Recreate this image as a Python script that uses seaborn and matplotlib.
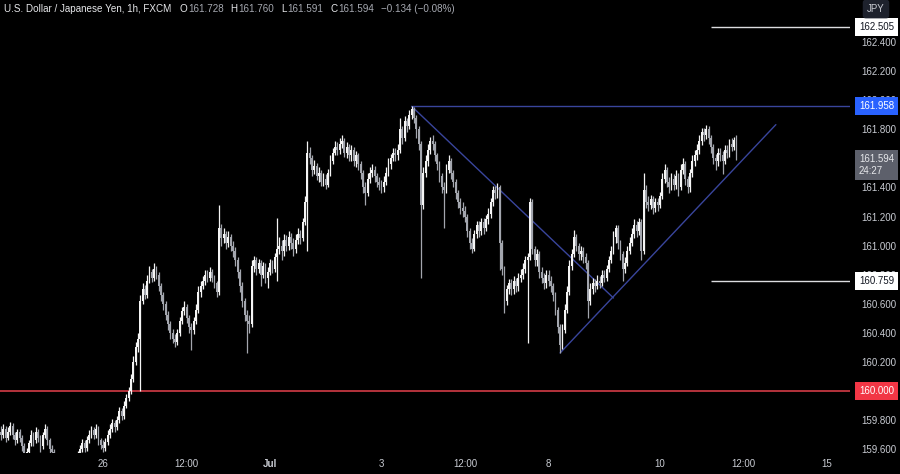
import matplotlib
matplotlib.use("Agg")
import matplotlib.pyplot as plt
import matplotlib.transforms as mtransforms
from matplotlib.patches import Rectangle
import seaborn as sns
import pandas as pd
import numpy as np

# USD/JPY 1h candles, FXCM
first_open = 159.72
closes = [
    159.70, 159.74, 159.68, 159.72, 159.76, 159.70, 159.66, 159.72, 159.68, 159.62,
    159.56, 159.58, 159.64, 159.70, 159.66, 159.72, 159.68, 159.62, 159.70, 159.74,
    159.66, 159.60, 159.58, 159.52, 159.46, 159.42, 159.45, 159.40, 159.44, 159.48,
    159.45, 159.50, 159.53, 159.56, 159.60, 159.64, 159.61, 159.66, 159.70, 159.73,
    159.70, 159.74, 159.66, 159.63, 159.61, 159.65, 159.70, 159.74, 159.78, 159.75,
    159.80, 159.86, 159.83, 159.90, 159.95, 160.00, 160.08, 160.20, 160.30, 160.36,
    160.62, 160.70, 160.66, 160.76, 160.82, 160.78, 160.84, 160.80, 160.72, 160.66,
    160.60, 160.52, 160.46, 160.40, 160.36, 160.34, 160.40, 160.48, 160.55, 160.58,
    160.50, 160.44, 160.42, 160.48, 160.56, 160.68, 160.72, 160.76, 160.80, 160.78,
    160.82, 160.78, 160.74, 160.68, 161.12, 161.05, 161.08, 161.02, 161.06, 161.00,
    160.96, 160.90, 160.82, 160.72, 160.62, 160.52, 160.48, 160.46, 160.86, 160.90,
    160.84, 160.88, 160.80, 160.86, 160.78, 160.82, 160.88, 160.84, 160.92, 160.98,
    161.00, 160.96, 161.04, 161.00, 161.06, 161.02, 160.98, 161.04, 161.08, 161.05,
    161.16, 161.30, 161.64, 161.60, 161.52, 161.55, 161.48, 161.50, 161.44, 161.46,
    161.42, 161.50, 161.58, 161.64, 161.68, 161.66, 161.70, 161.72, 161.64, 161.68,
    161.62, 161.66, 161.58, 161.62, 161.56, 161.50, 161.40, 161.36, 161.46, 161.50,
    161.52, 161.48, 161.44, 161.42, 161.40, 161.44, 161.50, 161.56, 161.60, 161.64,
    161.62, 161.66, 161.80, 161.74, 161.86, 161.82, 161.90, 161.94, 161.88, 161.80,
    161.70, 161.28, 161.50, 161.58, 161.66, 161.72, 161.70, 161.62, 161.56, 161.48,
    161.40, 161.38, 161.52, 161.58, 161.50, 161.44, 161.36, 161.30, 161.26, 161.24,
    161.20, 161.10, 161.02, 160.98, 161.08, 161.14, 161.10, 161.16, 161.12, 161.18,
    161.22, 161.30, 161.38, 161.36, 161.40, 161.02, 160.84, 160.62, 160.70, 160.74,
    160.70, 160.76, 160.72, 160.78, 160.80, 160.84, 160.90, 160.92, 161.30, 160.98,
    160.90, 160.94, 160.82, 160.78, 160.74, 160.80, 160.76, 160.72, 160.66, 160.56,
    160.44, 160.32, 160.42, 160.56, 160.68, 160.86, 160.94, 161.06, 161.00, 160.94,
    160.96, 160.92, 160.88, 160.62, 160.70, 160.74, 160.72, 160.76, 160.74, 160.80,
    160.78, 160.84, 160.90, 160.96, 161.06, 161.12, 161.02, 160.94, 160.84, 160.88,
    160.96, 161.02, 161.08, 161.14, 161.10, 161.16, 160.96, 161.38, 161.30, 161.28,
    161.32, 161.26, 161.30, 161.28, 161.34, 161.46, 161.52, 161.44, 161.40, 161.46,
    161.42, 161.48, 161.40, 161.52, 161.56, 161.46, 161.40, 161.50, 161.58, 161.62,
    161.66, 161.72, 161.78, 161.76, 161.80, 161.74, 161.68, 161.60, 161.58, 161.64,
    161.62, 161.58, 161.66, 161.64, 161.70, 161.68, 161.728, 161.594,
]
highs = [
    159.76, 159.77, 159.76, 159.75, 159.79, 159.78, 159.72, 159.74, 159.74, 159.70,
    159.64, 159.61, 159.66, 159.73, 159.72, 159.75, 159.74, 159.70, 159.72, 159.77,
    159.76, 159.68, 159.63, 159.60, 159.54, 159.49, 159.48, 159.47, 159.47, 159.51,
    159.51, 159.53, 159.56, 159.59, 159.63, 159.67, 159.66, 159.69, 159.73, 159.76,
    159.75, 159.77, 159.76, 159.68, 159.66, 159.68, 159.73, 159.77, 159.81, 159.80,
    159.83, 159.89, 159.88, 159.93, 159.98, 160.03, 160.12, 160.24, 160.34, 160.40,
    160.66, 160.74, 160.73, 160.80, 160.86, 160.84, 160.88, 160.86, 160.82, 160.74,
    160.68, 160.62, 160.55, 160.48, 160.43, 160.39, 160.43, 160.51, 160.58, 160.62,
    160.60, 160.52, 160.47, 160.51, 160.60, 160.72, 160.76, 160.79, 160.83, 160.83,
    160.85, 160.84, 160.80, 160.76, 161.28, 161.15, 161.12, 161.10, 161.10, 161.08,
    161.03, 160.99, 160.92, 160.84, 160.75, 160.64, 160.56, 160.52, 160.90, 160.93,
    160.92, 160.91, 160.90, 160.89, 160.88, 160.85, 160.91, 160.90, 160.95, 161.19,
    161.06, 161.04, 161.08, 161.07, 161.10, 161.09, 161.05, 161.08, 161.12, 161.11,
    161.19, 161.34, 161.72, 161.68, 161.62, 161.59, 161.57, 161.54, 161.52, 161.50,
    161.49, 161.53, 161.62, 161.67, 161.72, 161.71, 161.74, 161.76, 161.74, 161.71,
    161.70, 161.69, 161.68, 161.65, 161.64, 161.58, 161.52, 161.44, 161.50, 161.54,
    161.56, 161.55, 161.50, 161.47, 161.45, 161.48, 161.54, 161.60, 161.63, 161.67,
    161.67, 161.70, 161.88, 161.82, 161.89, 161.88, 161.93, 161.958, 161.95, 161.90,
    161.82, 161.72, 161.54, 161.62, 161.70, 161.75, 161.76, 161.72, 161.64, 161.58,
    161.50, 161.44, 161.56, 161.62, 161.60, 161.52, 161.46, 161.38, 161.33, 161.30,
    161.27, 161.22, 161.12, 161.05, 161.11, 161.17, 161.17, 161.19, 161.19, 161.21,
    161.26, 161.33, 161.41, 161.41, 161.43, 161.42, 161.04, 160.86, 160.73, 160.77,
    160.77, 160.79, 160.78, 160.81, 160.84, 160.88, 160.93, 160.95, 161.33, 161.32,
    161.00, 160.98, 160.96, 160.85, 160.81, 160.83, 160.83, 160.79, 160.74, 160.68,
    160.58, 160.46, 160.46, 160.60, 160.72, 160.90, 160.98, 161.11, 161.08, 161.02,
    161.00, 160.99, 160.95, 160.90, 160.74, 160.78, 160.77, 160.80, 160.79, 160.83,
    160.83, 160.87, 160.93, 161.00, 161.10, 161.14, 161.14, 161.04, 160.96, 160.92,
    161.00, 161.06, 161.12, 161.18, 161.17, 161.19, 161.18, 161.50, 161.42, 161.34,
    161.35, 161.34, 161.33, 161.33, 161.37, 161.50, 161.56, 161.54, 161.47, 161.50,
    161.49, 161.52, 161.50, 161.56, 161.60, 161.58, 161.48, 161.53, 161.62, 161.66,
    161.70, 161.76, 161.81, 161.81, 161.83, 161.82, 161.76, 161.70, 161.63, 161.67,
    161.67, 161.65, 161.69, 161.69, 161.73, 161.74, 161.75, 161.760,
]
lows = [
    159.66, 159.68, 159.65, 159.66, 159.70, 159.67, 159.63, 159.64, 159.65, 159.59,
    159.53, 159.53, 159.56, 159.62, 159.62, 159.64, 159.65, 159.58, 159.60, 159.68,
    159.63, 159.57, 159.55, 159.49, 159.43, 159.39, 159.40, 159.37, 159.38, 159.42,
    159.42, 159.43, 159.48, 159.51, 159.54, 159.58, 159.58, 159.59, 159.64, 159.68,
    159.67, 159.68, 159.63, 159.60, 159.58, 159.59, 159.63, 159.68, 159.72, 159.72,
    159.73, 159.78, 159.80, 159.81, 159.88, 159.93, 159.98, 160.06, 160.18, 160.27,
    160.00, 160.60, 160.63, 160.64, 160.74, 160.75, 160.76, 160.77, 160.69, 160.62,
    160.56, 160.49, 160.42, 160.36, 160.33, 160.30, 160.32, 160.38, 160.46, 160.52,
    160.47, 160.40, 160.28, 160.39, 160.46, 160.54, 160.65, 160.70, 160.73, 160.75,
    160.76, 160.75, 160.71, 160.65, 160.66, 161.00, 161.02, 160.98, 160.99, 160.96,
    160.92, 160.86, 160.78, 160.68, 160.58, 160.48, 160.26, 160.40, 160.44, 160.82,
    160.80, 160.81, 160.72, 160.78, 160.74, 160.71, 160.80, 160.81, 160.82, 160.76,
    160.94, 160.90, 160.93, 160.96, 160.97, 160.98, 160.93, 160.95, 161.01, 161.01,
    161.03, 161.14, 160.96, 161.56, 161.48, 161.49, 161.45, 161.44, 161.41, 161.41,
    161.39, 161.40, 161.48, 161.56, 161.62, 161.62, 161.63, 161.67, 161.61, 161.60,
    161.58, 161.58, 161.55, 161.54, 161.52, 161.46, 161.36, 161.28, 161.34, 161.43,
    161.47, 161.44, 161.40, 161.38, 161.36, 161.37, 161.42, 161.48, 161.53, 161.58,
    161.58, 161.59, 161.64, 161.70, 161.72, 161.78, 161.80, 161.87, 161.84, 161.74,
    161.66, 160.78, 161.25, 161.47, 161.55, 161.63, 161.66, 161.58, 161.52, 161.44,
    161.36, 161.12, 161.36, 161.50, 161.46, 161.40, 161.32, 161.26, 161.22, 161.20,
    161.16, 161.06, 160.98, 160.95, 160.96, 161.05, 161.06, 161.07, 161.08, 161.10,
    161.15, 161.19, 161.27, 161.32, 161.33, 160.83, 160.80, 160.54, 160.59, 160.67,
    160.66, 160.67, 160.68, 160.69, 160.75, 160.77, 160.81, 160.33, 160.90, 160.94,
    160.86, 160.86, 160.78, 160.74, 160.70, 160.71, 160.72, 160.68, 160.62, 160.52,
    160.40, 160.26, 160.29, 160.40, 160.54, 160.66, 160.83, 160.92, 160.96, 160.90,
    160.90, 160.88, 160.84, 160.50, 160.59, 160.67, 160.68, 160.70, 160.71, 160.72,
    160.75, 160.76, 160.82, 160.88, 160.94, 161.02, 160.98, 160.90, 160.76, 160.81,
    160.86, 160.94, 161.00, 161.05, 161.06, 161.07, 160.90, 160.94, 161.26, 161.24,
    161.25, 161.22, 161.23, 161.24, 161.26, 161.32, 161.43, 161.40, 161.36, 161.38,
    161.38, 161.39, 161.34, 161.38, 161.49, 161.42, 161.36, 161.37, 161.47, 161.55,
    161.59, 161.63, 161.69, 161.72, 161.73, 161.70, 161.64, 161.56, 161.52, 161.55,
    161.58, 161.49, 161.56, 161.60, 161.61, 161.65, 161.66, 161.591,
]
first_bar = "2024-06-24 04:00"

tick_times = ["2024-06-26 00:00", "2024-06-27 12:00", "2024-07-01 00:00",
              "2024-07-03 00:00", "2024-07-04 12:00", "2024-07-08 00:00",
              "2024-07-10 00:00", "2024-07-11 12:00", "2024-07-15 00:00"]
tick_labels = ["26", "12:00", "Jul", "3", "12:00", "8", "10", "12:00", "15"]
# 160.000 and 161.600 sit under the price tags, 162.600 under the currency box
price_ticks = [159.6, 159.8, 160.2, 160.4, 160.6, 160.8, 161.0,
               161.2, 161.4, 161.8, 162.0, 162.2, 162.4]

# drawn levels / trendlines
support = 160.000
resistance = 161.958
upper_level = 162.505
lower_level = 160.759
levels_from = "2024-07-10 22:00"
resistance_from = "2024-07-03 13:00"
down_trend = (["2024-07-03 13:00", "2024-07-09 04:00"], [161.958, 160.640])
up_trend = (["2024-07-08 05:00", "2024-07-12 02:00"], [160.262, 161.832])
countdown = "24:27"

BG = "#000000"
UP = "#f4f4f4"
DOWN = "#a3a6ae"
TXT = "#c9ccd3"
NAVY = "#39459c"
RED = "#e5404c"
BLUE = "#2962ff"
WHITE = "#dcdde0"

sns.set_theme(style="dark", rc={"axes.facecolor": BG, "figure.facecolor": BG})
plt.rcParams["font.family"] = ["Liberation Sans", "DejaVu Sans"]

# trading-hour axis (weekends removed)
hours = pd.date_range(first_bar, "2024-07-19 00:00", freq="h")
hours = hours[hours.dayofweek < 5]


def pos(t):
    return hours.get_loc(pd.Timestamp(t))


n = len(closes)
df = pd.DataFrame({
    "pos": np.arange(n),
    "open": [first_open] + closes[:-1],
    "high": highs,
    "low": lows,
    "close": closes,
})
rising = df["close"] >= df["open"]
colors = np.where(rising, UP, DOWN)
body_low = df[["open", "close"]].min(axis=1)
body_h = np.maximum((df["close"] - df["open"]).abs(), 0.005)

fig = plt.figure(figsize=(9, 4.74), dpi=100)
ax = fig.add_axes([0, 21 / 474, 850 / 900, 453 / 474])

ax.vlines(df["pos"], df["low"], df["high"], colors=colors, linewidth=0.9, zorder=3)
ax.bar(df["pos"], body_h, bottom=body_low, width=0.78, color=colors, linewidth=0, zorder=3)

x_right = 365.95
ax.hlines(support, -1, x_right, color=RED, linewidth=1.1, zorder=2)
ax.hlines(resistance, pos(resistance_from), x_right, color=NAVY, linewidth=1.0, zorder=2)
ax.hlines([upper_level, lower_level], pos(levels_from), x_right, color=WHITE, linewidth=1.0, zorder=2)
for times, prices in (down_trend, up_trend):
    sns.lineplot(x=[pos(t) for t in times], y=prices, ax=ax, color=NAVY,
                 linewidth=1.0, zorder=2)

ax.set_xlim(-0.43, x_right)
ax.set_ylim(159.574, 162.689)
ax.grid(False)
for s in ax.spines.values():
    s.set_visible(False)

ax.set_xticks([pos(t) for t in tick_times])
ax.set_xticklabels(tick_labels)
for lab in ax.get_xticklabels():
    if lab.get_text() == "Jul":
        lab.set_fontweight("bold")
ax.tick_params(axis="x", length=0, pad=4, labelsize=7, colors=TXT)

ax.yaxis.tick_right()
ax.set_yticks(price_ticks)
ax.set_yticklabels([f"{p:.3f}" for p in price_ticks])
ax.tick_params(axis="y", length=0, pad=8.5, labelsize=7, colors=TXT)
ax.set_xlabel("")
ax.set_ylabel("")

# price tags on the scale
tag = mtransforms.blended_transform_factory(fig.transFigure, ax.transData)
tag_x = 859 / 900


def price_tag(y, text, face, color, trans=tag):
    ax.text(tag_x, y, text, transform=trans, ha="left", va="center", fontsize=7,
            color=color, clip_on=False, zorder=10, linespacing=1.25,
            bbox=dict(boxstyle="square,pad=0.4", facecolor=face, edgecolor="none"))


price_tag(upper_level, f"{upper_level:.3f}", "#ffffff", "#131722")
price_tag(resistance, f"{resistance:.3f}", BLUE, "#ffffff")
price_tag(lower_level, f"{lower_level:.3f}", "#ffffff", "#131722")
price_tag(support, f"{support:.3f}", "#f23645", "#ffffff")
last_trans = mtransforms.offset_copy(tag, fig=fig, y=-6, units="dots")
price_tag(closes[-1], f"{closes[-1]:.3f}\n{countdown}", "#5d606b", "#e6e7ea", last_trans)

# cut the scale below the chart area
fig.patches.append(Rectangle((850 / 900, 0), 50 / 900, 21 / 474, transform=fig.transFigure,
                             facecolor=BG, edgecolor="none", zorder=5))

fig.text(876 / 900, 1 - 9 / 474, "JPY", ha="center", va="center", fontsize=7, color=TXT,
         bbox=dict(boxstyle="round,pad=0.45,rounding_size=0.3", facecolor="#1e222d", edgecolor="none"))

# legend header, laid out piece by piece
last = df.iloc[-1]
change = last["close"] - df.iloc[-2]["close"]
pct = change / df.iloc[-2]["close"] * 100
head_y = 1 - 9 / 474
LBL = "#e6e7ea"
VAL = "#a6a9b1"
pieces = [("U.S. Dollar / Japanese Yen, 1h, FXCM", LBL, 8),
          ("O", LBL, 1), (f"{last['open']:.3f}", VAL, 7),
          ("H", LBL, 1), (f"{last['high']:.3f}", VAL, 7),
          ("L", LBL, 1), (f"{last['low']:.3f}", VAL, 7),
          ("C", LBL, 1), (f"{last['close']:.3f}", VAL, 6),
          (f"\u2212{abs(change):.3f} (\u2212{abs(pct):.2f}%)", VAL, 0)]
renderer = fig.canvas.get_renderer()
px = 4.0
for s, c, gap in pieces:
    t = fig.text(px / 900, head_y, s, ha="left", va="center", fontsize=7.1, color=c)
    px = t.get_window_extent(renderer).x1 + gap

fig.savefig("out.png", dpi=100, facecolor=BG)
